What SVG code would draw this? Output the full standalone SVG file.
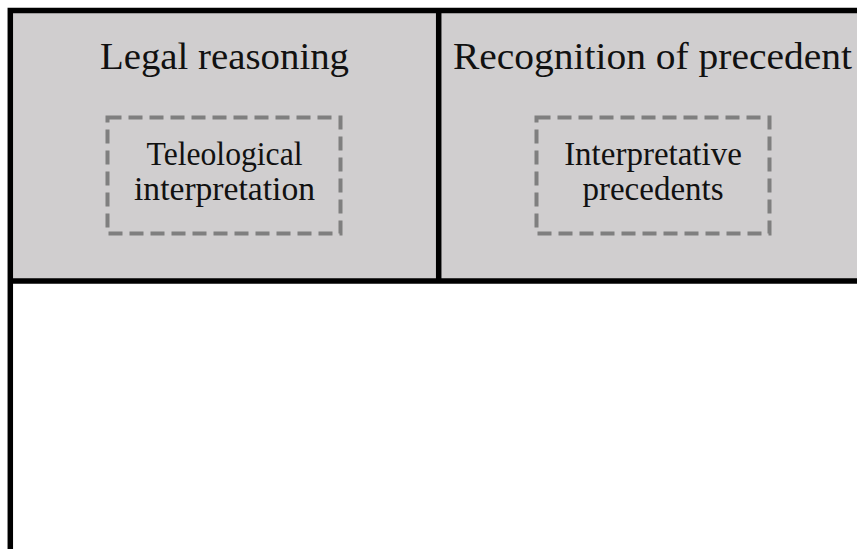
<svg xmlns="http://www.w3.org/2000/svg" width="857" height="549" viewBox="0 0 857 549">
  <style>
    .cell { fill: #d0cecf; stroke: none; }
    .frame { fill: none; stroke: #000; stroke-width: 5.5; }
    .head { font-family: "Liberation Serif", "DejaVu Serif", serif; font-size: 38px; fill: #111; text-anchor: middle; }
    .inner { font-family: "Liberation Serif", "DejaVu Serif", serif; font-size: 33px; fill: #111; text-anchor: middle; }
    .dash { fill: none; stroke: #7f7f7f; stroke-width: 4; stroke-dasharray: 14 7; }
  </style>
  <rect x="0" y="0" width="857" height="549" fill="#fff"/>
  <g id="cell-legal-reasoning">
    <rect class="cell" x="10" y="10" width="429" height="271"/>
    <text class="head" x="224.5" y="69" textLength="249" lengthAdjust="spacingAndGlyphs">Legal reasoning</text>
  </g>
  <g id="cell-recognition-of-precedent">
    <rect class="cell" x="439" y="10" width="430" height="271"/>
    <text class="head" x="652.5" y="69" textLength="399" lengthAdjust="spacingAndGlyphs">Recognition of precedent</text>
  </g>
  <g id="node-teleological-interpretation">
    <rect class="dash" x="107.5" y="117.5" width="233" height="116"/>
    <text class="inner" x="224.5" y="165" textLength="156" lengthAdjust="spacingAndGlyphs">Teleological</text>
    <text class="inner" x="224.5" y="200" textLength="181" lengthAdjust="spacingAndGlyphs">interpretation</text>
  </g>
  <g id="node-interpretative-precedents">
    <rect class="dash" x="536.5" y="117.5" width="233" height="116"/>
    <text class="inner" x="653" y="165">Interpretative</text>
    <text class="inner" x="653" y="200">precedents</text>
  </g>
  <g id="cell-bottom">
    <rect x="13" y="284" width="860" height="280" fill="#fff"/>
  </g>
  <g id="frame">
    <rect class="frame" x="10.3" y="10.5" width="858" height="560"/>
    <line class="frame" x1="10" y1="281" x2="870" y2="281"/>
    <line class="frame" x1="438.7" y1="10" x2="438.7" y2="281"/>
  </g>
  <g id="connectors"/>
</svg>
